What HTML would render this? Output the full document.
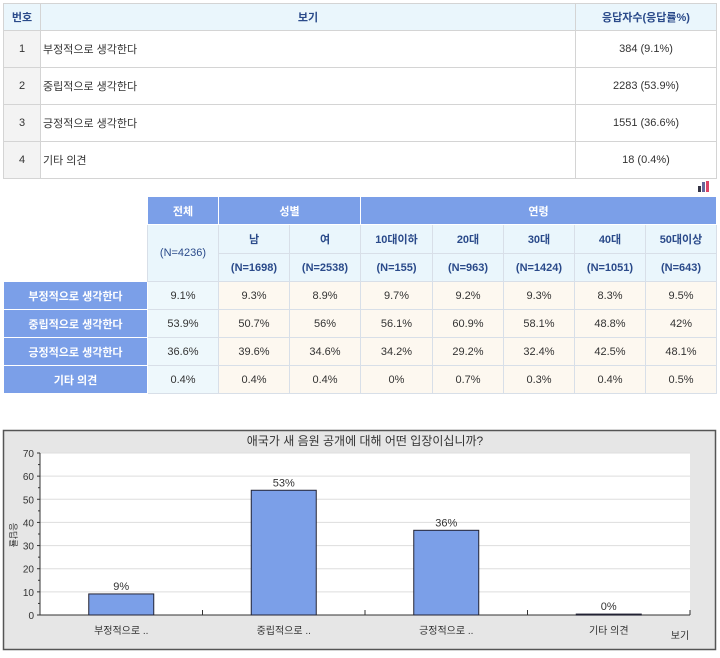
<!DOCTYPE html>
<html><head><meta charset="utf-8">
<style>
body{margin:0;width:720px;height:658px;background:#fff;position:relative;overflow:hidden;font-family:"Liberation Sans","Noto Sans CJK KR","NanumGothic",sans-serif;font-size:11px;color:#333}
table{border-collapse:collapse;position:absolute;table-layout:fixed}
#t1{left:3px;top:3px;width:713px}
#t1 td{border:1px solid #d4d4d4;padding:0}
#t1 .h td{background:#eaf6fc;height:26px;text-align:center;color:#2a4a8a;font-weight:bold}
#t1 .r td{height:36px}
#t1 .n{background:#f3f3f3;text-align:center}
#t1 .l{padding-left:2px}
#t1 .v{text-align:center}
#t1{border-bottom:1px dotted #999}
#t2{left:3px;top:196px;width:713px}
#t2 td{border:1px solid #d8dfe8;text-align:center;padding:0;height:27px}
#t2 .hb{background:#7b9fe8;color:#fff;font-weight:bold;border-color:#fff}
#t2 .hl{background:#eaf6fc;color:#2a4a8a;font-weight:bold}
#t2 .rl{background:#7b9fe8;color:#fff;font-weight:bold;border-color:#fff}
#t2 .c0{background:#eef8fc}
#t2 .c{background:#fdf8f0}
#t2 .e{border:none;background:#fff}
</style></head><body>
<table id="t1">
<colgroup><col style="width:37px"><col style="width:535px"><col style="width:141px"></colgroup>
<tr class="h"><td>번호</td><td>보기</td><td>응답자수(응답률%)</td></tr>
<tr class="r"><td class="n">1</td><td class="l">부정적으로 생각한다</td><td class="v">384 (9.1%)</td></tr>
<tr class="r"><td class="n">2</td><td class="l">중립적으로 생각한다</td><td class="v">2283 (53.9%)</td></tr>
<tr class="r"><td class="n">3</td><td class="l">긍정적으로 생각한다</td><td class="v">1551 (36.6%)</td></tr>
<tr class="r"><td class="n">4</td><td class="l">기타 의견</td><td class="v">18 (0.4%)</td></tr>
</table>
<div style="position:absolute;left:697px;top:181px;width:14px;height:11px">
<div style="position:absolute;left:1px;bottom:0;width:3px;height:6px;background:#334"></div>
<div style="position:absolute;left:5px;bottom:0;width:3px;height:10px;background:#669"></div>
<div style="position:absolute;left:9px;bottom:0;width:3px;height:11px;background:#d46"></div>
</div>
<table id="t2">
<colgroup><col style="width:144px"><col style="width:71px"><col style="width:71px"><col style="width:71px"><col style="width:72px"><col style="width:71px"><col style="width:71px"><col style="width:71px"><col style="width:71px"></colgroup>
<tr><td class="e"></td><td class="hb">전체</td><td class="hb" colspan="2">성별</td><td class="hb" colspan="5">연령</td></tr>
<tr><td class="e"></td><td class="hl" rowspan="2" style="font-weight:normal">(N=4236)</td><td class="hl" style="height:28px">남</td><td class="hl">여</td><td class="hl">10대이하</td><td class="hl">20대</td><td class="hl">30대</td><td class="hl">40대</td><td class="hl">50대이상</td></tr>
<tr><td class="e"></td><td class="hl">(N=1698)</td><td class="hl">(N=2538)</td><td class="hl">(N=155)</td><td class="hl">(N=963)</td><td class="hl">(N=1424)</td><td class="hl">(N=1051)</td><td class="hl">(N=643)</td></tr>
<tr><td class="rl">부정적으로 생각한다</td><td class="c0">9.1%</td><td class="c">9.3%</td><td class="c">8.9%</td><td class="c">9.7%</td><td class="c">9.2%</td><td class="c">9.3%</td><td class="c">8.3%</td><td class="c">9.5%</td></tr>
<tr><td class="rl">중립적으로 생각한다</td><td class="c0">53.9%</td><td class="c">50.7%</td><td class="c">56%</td><td class="c">56.1%</td><td class="c">60.9%</td><td class="c">58.1%</td><td class="c">48.8%</td><td class="c">42%</td></tr>
<tr><td class="rl">긍정적으로 생각한다</td><td class="c0">36.6%</td><td class="c">39.6%</td><td class="c">34.6%</td><td class="c">34.2%</td><td class="c">29.2%</td><td class="c">32.4%</td><td class="c">42.5%</td><td class="c">48.1%</td></tr>
<tr><td class="rl">기타 의견</td><td class="c0">0.4%</td><td class="c">0.4%</td><td class="c">0.4%</td><td class="c">0%</td><td class="c">0.7%</td><td class="c">0.3%</td><td class="c">0.4%</td><td class="c">0.5%</td></tr>
</table>
<svg id="chart" width="720" height="658" style="position:absolute;left:0;top:0" font-family="Liberation Sans, Noto Sans CJK KR, sans-serif">
<rect x="3.5" y="430.5" width="712" height="219" fill="#e6e6e6" stroke="#555" stroke-width="1.5"/>
<rect x="40" y="453" width="650" height="162" fill="#fff"/>
<text x="365" y="445" font-size="12" text-anchor="middle" fill="#333">애국가 새 음원 공개에 대해 어떤 입장이십니까?</text>
<g id="grid"></g><g id="bars"></g>
<text x="680" y="639" font-size="10" text-anchor="middle" fill="#333">보기</text>
<text x="10" y="535" font-size="9" text-anchor="middle" fill="#333" transform="rotate(90 10 535)">응답률</text>
</svg>
<script>
const categories=["부정적으로 ..","중립적으로 ..","긍정적으로 ..","기타 의견"];
const values=[9.1,53.9,36.6,0.4];
const labels=["9%","53%","36%","0%"];
const yTicks=[0,10,20,30,40,50,60,70];
const NS="http://www.w3.org/2000/svg";
const X0=40,X1=690,Y0=615,Y1=453,YMAX=70;
const y=v=>Y0-(v/YMAX)*(Y0-Y1);
const bw=(X1-X0)/categories.length;
const xc=i=>X0+bw*(i+0.5);
function mk(t,a,p){const e=document.createElementNS(NS,t);for(const k in a)e.setAttribute(k,a[k]);p.appendChild(e);return e;}
const g=document.getElementById('grid'),b=document.getElementById('bars');
yTicks.forEach(t=>{
 if(t>0){const l=mk('line',{x1:X0,x2:X1,y1:y(t),y2:y(t),stroke:'#ddd'},g);
 
 }
 mk('line',{x1:X0-3,x2:X0,y1:y(t),y2:y(t),stroke:'#333'},g);
 if(t<70)mk('line',{x1:X0-2,x2:X0,y1:y(t+5),y2:y(t+5),stroke:'#333'},g);
 const tx=mk('text',{x:X0-6,y:y(t)+4,'font-size':10,'text-anchor':'end',fill:'#333'},g);
 tx.textContent=t;
 
 
});
mk('line',{x1:X0,x2:X0,y1:Y1,y2:Y0,stroke:'#333'},g);
mk('line',{x1:X0,x2:X1,y1:Y0,y2:Y0,stroke:'#333'},g);
for(let i=1;i<=categories.length;i++)mk('line',{x1:X0+bw*i,x2:X0+bw*i,y1:Y0-5,y2:Y0,stroke:'#333'},g);
categories.forEach((c,i)=>{
 const w=65,h=Y0-y(values[i]);
 const r=mk('rect',{x:xc(i)-w/2,y:y(values[i]),width:w,height:Math.max(h,1),fill:'#7b9fe8',stroke:'#223',"stroke-width":1},b);
 
 
 const vl=mk('text',{x:xc(i),y:y(values[i])-4,'font-size':11,'text-anchor':'middle',fill:'#333'},b);
 vl.textContent=labels[i];
 
 
 const cl=mk('text',{x:xc(i),y:Y0+19,'font-size':10,'text-anchor':'middle',fill:'#333'},b);
 cl.textContent=categories[i];
 
 
});
</script>
</body></html>
